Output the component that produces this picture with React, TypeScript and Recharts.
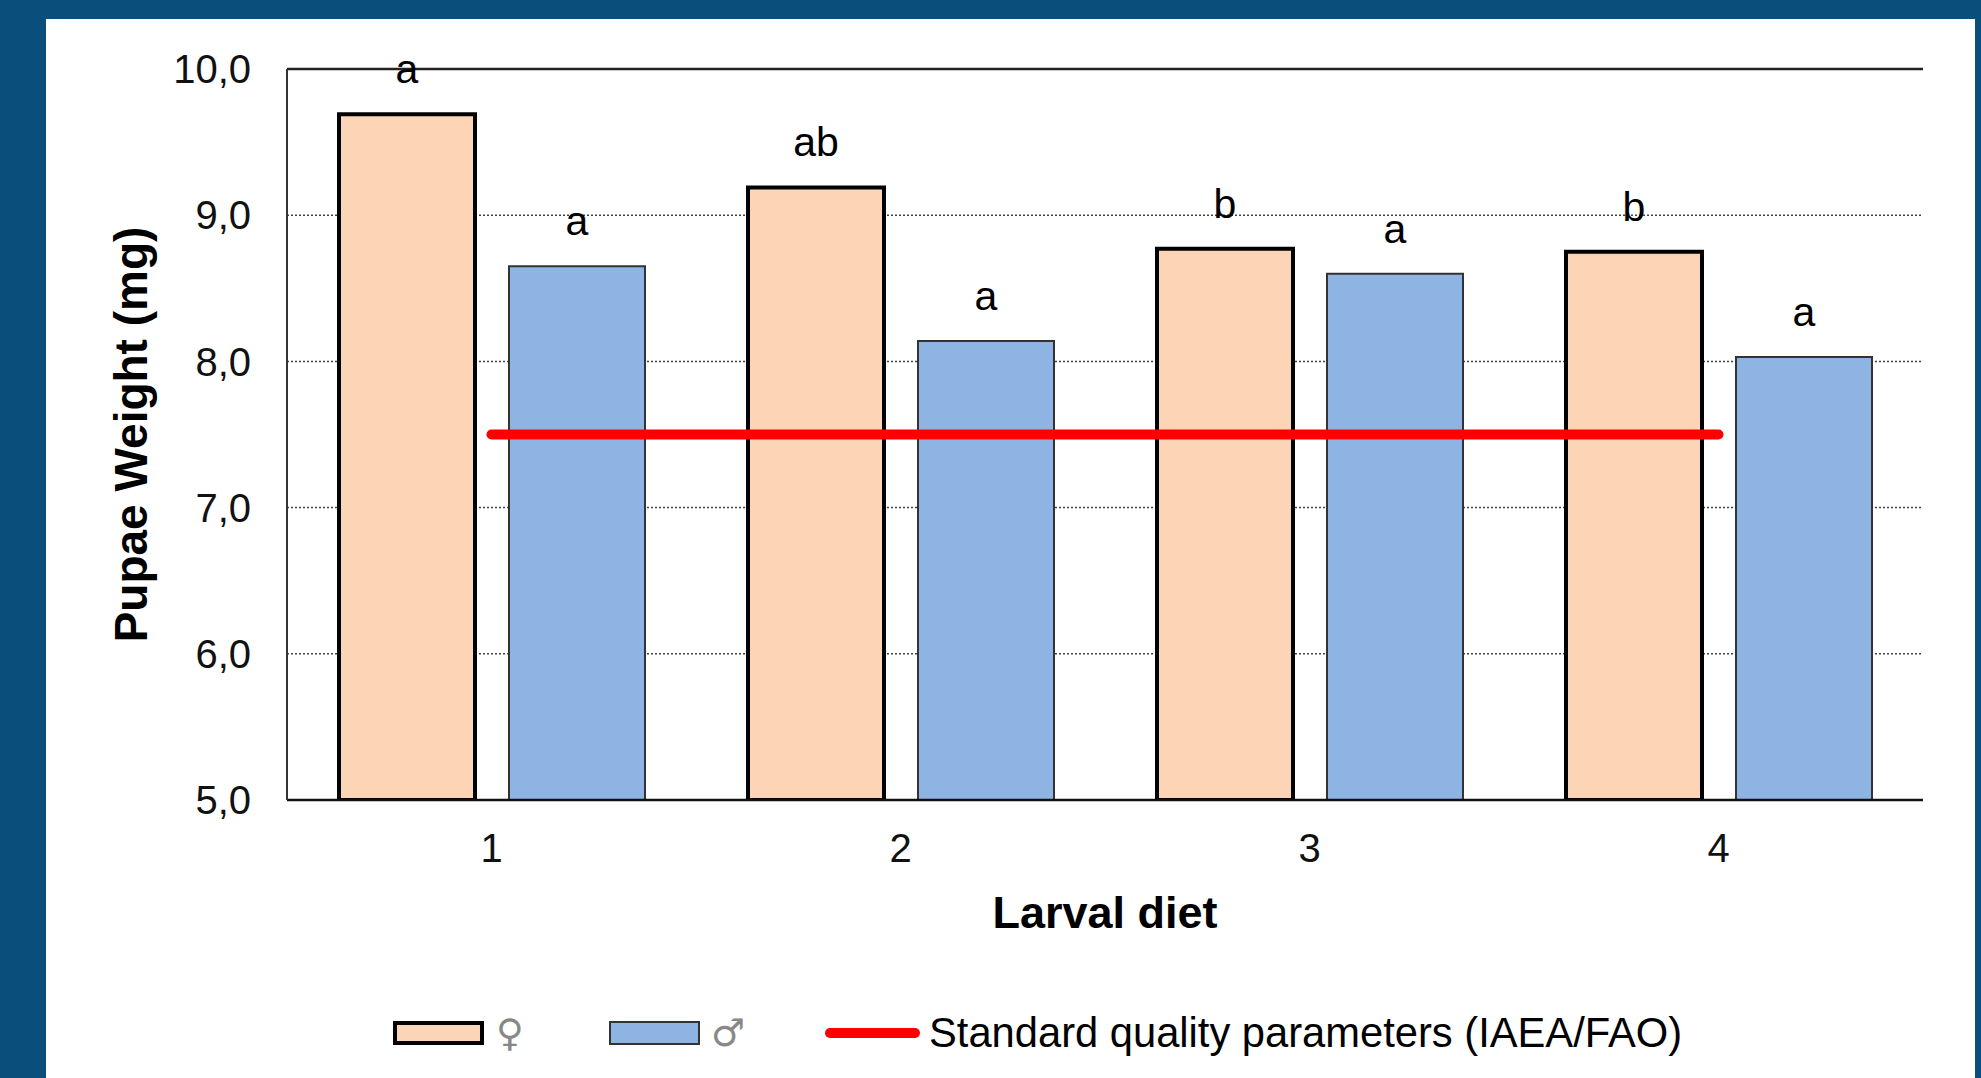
import React from "react";
import {
  ComposedChart,
  Bar,
  Line,
  XAxis,
  YAxis,
  CartesianGrid,
  ReferenceLine,
  LabelList,
  Legend,
} from "recharts";

// pupae weight (mg) per larval diet
const diets = ["1", "2", "3", "4"];
const femaleWeight = [9.69, 9.19, 8.77, 8.75];
const maleWeight = [8.65, 8.14, 8.6, 8.03];
const standardWeight = [7.5, 7.5, 7.5, 7.5];
const femaleGroups = ["a", "ab", "b", "b"];
const maleGroups = ["a", "a", "a", "a"];
const weightTicks = [5, 6, 7, 8, 9, 10];

const FEMALE = "\u2640";
const MALE = "\u2642";
const STANDARD = "Standard quality parameters (IAEA/FAO)";
const legendOrder = ["female", "male", "standard"];

const data = diets.map((diet, i) => ({
  diet,
  female: femaleWeight[i],
  male: maleWeight[i],
  standard: standardWeight[i],
  femaleGroup: femaleGroups[i],
  maleGroup: maleGroups[i],
}));

const FONT = "'Liberation Sans', Arial, sans-serif";
const PEACH = "#FBD5B5";
const BLUE = "#8EB4E3";

const fmt = (v: number) => v.toFixed(1).replace(".", ",");

function YTitle(props: any) {
  const vb = props.viewBox || { x: 0, y: 0, height: 0 };
  const x = vb.x + 147;
  const y = vb.y + vb.height / 2;
  return (
    <text
      x={x}
      y={y}
      transform={`rotate(-90 ${x} ${y})`}
      textAnchor="middle"
      fontFamily={FONT}
      fontWeight="bold"
      fontSize={46}
      fill="#000"
    >
      Pupae Weight (mg)
    </text>
  );
}

function XTitle(props: any) {
  const vb = props.viewBox || { x: 0, y: 0, width: 0 };
  return (
    <text
      x={vb.x + vb.width / 2}
      y={vb.y + 128}
      textAnchor="middle"
      fontFamily={FONT}
      fontWeight="bold"
      fontSize={45}
      fill="#000"
    >
      Larval diet
    </text>
  );
}

function SeriesLegend({ payload }: any) {
  const items = legendOrder
    .map((key) => (payload || []).find((p: any) => p.dataKey === key))
    .filter(Boolean);
  return (
    <div
      style={{
        display: "flex",
        alignItems: "center",
        height: 60,
        paddingLeft: 393,
        fontFamily: FONT,
      }}
    >
      {items.map((item: any) => {
        if (item.dataKey === "standard") {
          return (
            <div key={item.dataKey} style={{ display: "flex", alignItems: "center" }}>
              <div
                style={{
                  width: 95,
                  height: 10,
                  borderRadius: 5,
                  background: item.color,
                  marginRight: 9,
                }}
              />
              <span style={{ fontSize: 41.7, color: "#000", whiteSpace: "nowrap" }}>
                {item.value}
              </span>
            </div>
          );
        }
        const female = item.dataKey === "female";
        return (
          <div
            key={item.dataKey}
            style={{ display: "flex", alignItems: "center", marginRight: female ? 90 : 85 }}
          >
            <div
              style={{
                boxSizing: "border-box",
                width: 91,
                height: 24,
                background: item.color,
                border: female ? "4px solid #000" : "2px solid #333",
                marginRight: female ? 12 : 11,
              }}
            />
            <span
              style={{
                display: "inline-block",
                width: female ? 23 : 29,
                textAlign: "center",
                fontFamily: "'DejaVu Sans', sans-serif",
                fontSize: 38,
                lineHeight: 1,
                color: "#888",
              }}
            >
              {item.value}
            </span>
          </div>
        );
      })}
    </div>
  );
}

export default function App() {
  return (
    <div
      style={{
        position: "absolute",
        left: 0,
        top: 0,
        width: 1981,
        height: 1078,
        background: "#0A4F7C",
        overflow: "hidden",
      }}
    >
      <div
        style={{
          position: "absolute",
          left: 46,
          top: 19,
          width: 1929,
          height: 1059,
          background: "#fff",
        }}
      />
      <div style={{ position: "absolute", left: 0, top: 0 }}>
        <ComposedChart
          width={1981}
          height={1078}
          data={data}
          margin={{ top: 69, right: 58, bottom: 138, left: 0 }}
          barSize={136}
          barGap={34}
        >
          <CartesianGrid
            vertical={false}
            stroke="#444"
            strokeWidth={1.5}
            strokeDasharray="2 2"
          />
          <XAxis
            dataKey="diet"
            height={140}
            tickSize={0}
            tickMargin={34}
            tickLine={false}
            axisLine={{ stroke: "#111", strokeWidth: 2.5 }}
            tick={{ fill: "#111", fontSize: 40, fontFamily: FONT }}
            label={<XTitle />}
          />
          <YAxis
            type="number"
            domain={[5, 10]}
            ticks={weightTicks}
            interval={0}
            allowDataOverflow
            width={287}
            tickSize={0}
            tickMargin={36}
            tickLine={false}
            tickFormatter={fmt}
            axisLine={{ stroke: "#333", strokeWidth: 2 }}
            tick={{ fill: "#111", fontSize: 40, fontFamily: FONT }}
            label={<YTitle />}
          />
          <YAxis
            yAxisId="frame"
            orientation="right"
            type="number"
            domain={[5, 10]}
            width={0}
            tick={false}
            tickLine={false}
            axisLine={{ stroke: "#333", strokeWidth: 2 }}
          />
          <ReferenceLine y={10} stroke="#222" strokeWidth={2.5} />
          <Bar
            dataKey="female"
            name={FEMALE}
            fill={PEACH}
            stroke="#000"
            strokeWidth={4}
            isAnimationActive={false}
          >
            <LabelList
              dataKey="femaleGroup"
              position="top"
              offset={31}
              fill="#000"
              fontSize={41}
              fontFamily={FONT}
            />
          </Bar>
          <Bar
            dataKey="male"
            name={MALE}
            fill={BLUE}
            stroke="#333"
            strokeWidth={2}
            isAnimationActive={false}
          >
            <LabelList
              dataKey="maleGroup"
              position="top"
              offset={31}
              fill="#000"
              fontSize={41}
              fontFamily={FONT}
            />
          </Bar>
          <Line
            dataKey="standard"
            name={STANDARD}
            stroke="#FF0000"
            strokeWidth={10}
            strokeLinecap="round"
            dot={false}
            activeDot={false}
            isAnimationActive={false}
          />
          <Legend
            layout="horizontal"
            verticalAlign="middle"
            align="center"
            wrapperStyle={{ top: 1003, left: 0, width: 1981, height: 60 }}
            content={<SeriesLegend />}
          />
        </ComposedChart>
      </div>
    </div>
  );
}
